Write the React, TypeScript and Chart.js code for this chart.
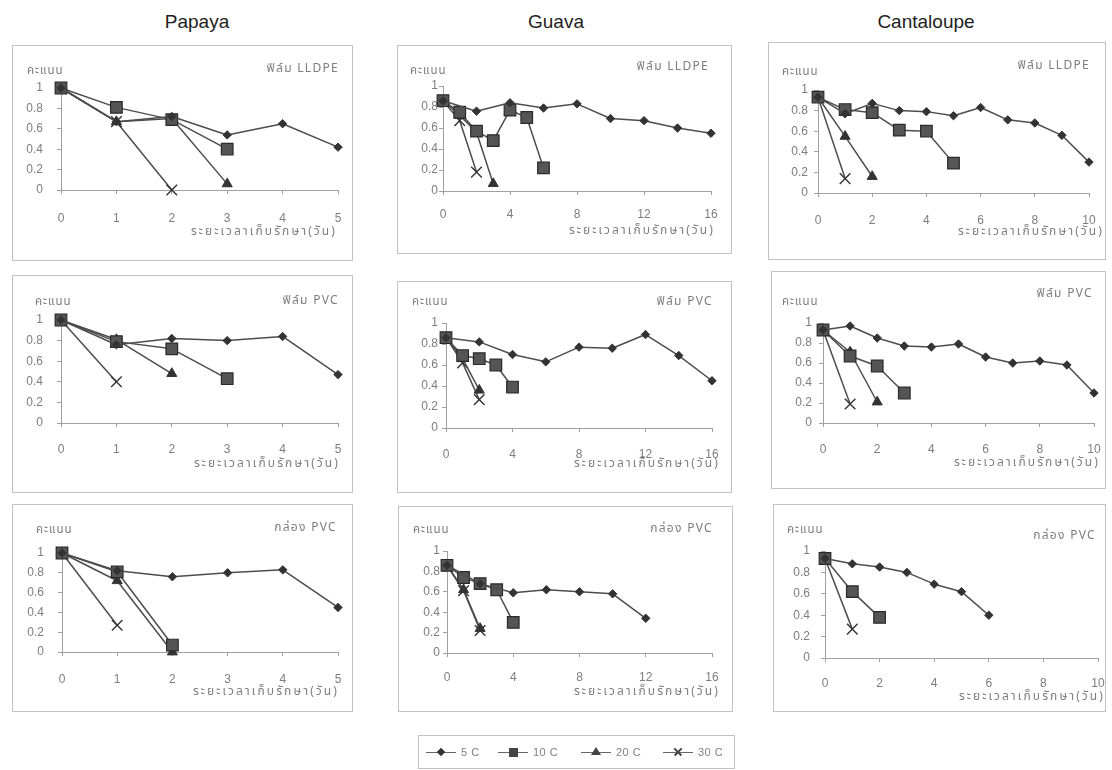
import React, { useEffect, useRef } from "react";
import { Chart, registerables } from "chart.js";
Chart.register(...registerables);

// ---------- text ----------
const fruitNames = ["Papaya", "Guava", "Cantaloupe"];
const packageNames = ["ฟิล์ม LLDPE", "ฟิล์ม PVC", "กล่อง PVC"];
const temperatureLabels = ["5 C", "10 C", "20 C", "30 C"];
const yAxisTitle = "คะแนน";
const xAxisTitle = "ระยะเวลาเก็บรักษา(วัน)";

// ---------- ticks ----------
const yTicks = [0, 0.2, 0.4, 0.6, 0.8, 1];
const papayaXTicks = [0, 1, 2, 3, 4, 5];
const guavaXTicks = [0, 4, 8, 12, 16];
const cantaloupeXTicks = [0, 2, 4, 6, 8, 10];

// ---------- days ----------
const dailyDays = [0, 1, 2, 3, 4, 5, 6, 7, 8, 9, 10];
const guavaLldpe5Days = [0, 2, 4, 6, 8, 10, 12, 14, 16];
const guavaPvc5Days = [0, 2, 4, 6, 8, 10, 12, 14, 16];
const guavaBox5Days = [0, 2, 4, 6, 8, 10, 12];

// ---------- scores: Papaya ----------
const papayaLldpe5 = [1, 0.67, 0.72, 0.54, 0.65, 0.42];
const papayaLldpe10 = [1, 0.81, 0.69, 0.4];
const papayaLldpe20 = [1, 0.67, 0.7, 0.06];
const papayaLldpe30 = [1, 0.67, 0];
const papayaPvc5 = [1, 0.76, 0.82, 0.8, 0.84, 0.47];
const papayaPvc10 = [1, 0.79, 0.72, 0.43];
const papayaPvc20 = [1, 0.81, 0.48];
const papayaPvc30 = [1, 0.4];
const papayaBox5 = [1, 0.82, 0.76, 0.8, 0.83, 0.45];
const papayaBox10 = [1, 0.81, 0.07];
const papayaBox20 = [1, 0.72, 0];
const papayaBox30 = [1, 0.27];

// ---------- scores: Guava ----------
const guavaLldpe5 = [0.86, 0.76, 0.84, 0.79, 0.83, 0.69, 0.67, 0.6, 0.55];
const guavaLldpe10 = [0.86, 0.75, 0.57, 0.48, 0.77, 0.7, 0.22];
const guavaLldpe20 = [0.86, 0.72, 0.56, 0.07];
const guavaLldpe30 = [0.86, 0.67, 0.18];
const guavaPvc5 = [0.86, 0.82, 0.7, 0.63, 0.77, 0.76, 0.89, 0.69, 0.45];
const guavaPvc10 = [0.86, 0.69, 0.66, 0.6, 0.39];
const guavaPvc20 = [0.86, 0.66, 0.36];
const guavaPvc30 = [0.86, 0.62, 0.27];
const guavaBox5 = [0.86, 0.68, 0.59, 0.62, 0.6, 0.58, 0.34];
const guavaBox10 = [0.86, 0.74, 0.68, 0.62, 0.3];
const guavaBox20 = [0.86, 0.62, 0.24];
const guavaBox30 = [0.86, 0.61, 0.22];

// ---------- scores: Cantaloupe ----------
const cantaloupeLldpe5 = [0.93, 0.77, 0.87, 0.8, 0.79, 0.75, 0.83, 0.71, 0.68, 0.56, 0.3];
const cantaloupeLldpe10 = [0.93, 0.81, 0.78, 0.61, 0.6, 0.29];
const cantaloupeLldpe20 = [0.93, 0.55, 0.16];
const cantaloupeLldpe30 = [0.93, 0.14];
const cantaloupePvc5 = [0.93, 0.97, 0.85, 0.77, 0.76, 0.79, 0.66, 0.6, 0.62, 0.58, 0.3];
const cantaloupePvc10 = [0.93, 0.67, 0.57, 0.3];
const cantaloupePvc20 = [0.93, 0.71, 0.21];
const cantaloupePvc30 = [0.93, 0.19];
const cantaloupeBox5 = [0.93, 0.88, 0.85, 0.8, 0.69, 0.62, 0.4];
const cantaloupeBox10 = [0.93, 0.62, 0.38];
const cantaloupeBox20: number[] = [];
const cantaloupeBox30 = [0.93, 0.27];

type Series = [number[], number[]];
type Panel = { fruit: number; pkg: number; xTicks: number[]; series: Series[] };

const panels: Panel[] = [
  { fruit: 0, pkg: 0, xTicks: papayaXTicks, series: [[dailyDays, papayaLldpe5], [dailyDays, papayaLldpe10], [dailyDays, papayaLldpe20], [dailyDays, papayaLldpe30]] },
  { fruit: 0, pkg: 1, xTicks: papayaXTicks, series: [[dailyDays, papayaPvc5], [dailyDays, papayaPvc10], [dailyDays, papayaPvc20], [dailyDays, papayaPvc30]] },
  { fruit: 0, pkg: 2, xTicks: papayaXTicks, series: [[dailyDays, papayaBox5], [dailyDays, papayaBox10], [dailyDays, papayaBox20], [dailyDays, papayaBox30]] },
  { fruit: 1, pkg: 0, xTicks: guavaXTicks, series: [[guavaLldpe5Days, guavaLldpe5], [dailyDays, guavaLldpe10], [dailyDays, guavaLldpe20], [dailyDays, guavaLldpe30]] },
  { fruit: 1, pkg: 1, xTicks: guavaXTicks, series: [[guavaPvc5Days, guavaPvc5], [dailyDays, guavaPvc10], [dailyDays, guavaPvc20], [dailyDays, guavaPvc30]] },
  { fruit: 1, pkg: 2, xTicks: guavaXTicks, series: [[guavaBox5Days, guavaBox5], [dailyDays, guavaBox10], [dailyDays, guavaBox20], [dailyDays, guavaBox30]] },
  { fruit: 2, pkg: 0, xTicks: cantaloupeXTicks, series: [[dailyDays, cantaloupeLldpe5], [dailyDays, cantaloupeLldpe10], [dailyDays, cantaloupeLldpe20], [dailyDays, cantaloupeLldpe30]] },
  { fruit: 2, pkg: 1, xTicks: cantaloupeXTicks, series: [[dailyDays, cantaloupePvc5], [dailyDays, cantaloupePvc10], [dailyDays, cantaloupePvc20], [dailyDays, cantaloupePvc30]] },
  { fruit: 2, pkg: 2, xTicks: cantaloupeXTicks, series: [[dailyDays, cantaloupeBox5], [dailyDays, cantaloupeBox10], [dailyDays, cantaloupeBox20], [dailyDays, cantaloupeBox30]] },
];

// ---------- layout (page px) ----------
type Geom = {
  box: number[]; area: number[]; yGap: number; xLab: number; xTit: number; xTitDx: number;
  yt: number[]; pk: number[];
};
const geoms: Geom[] = [
  { box: [12, 45, 353, 261], area: [61, 88, 338, 190], yGap: 18, xLab: 28, xTit: 43, xTitDx: -3, yt: [-34, -16], pk: [0, -18] },
  { box: [12, 275, 353, 493], area: [61, 320, 338, 423], yGap: 18, xLab: 26, xTit: 42, xTitDx: 0, yt: [-26, -17], pk: [0, -18] },
  { box: [12, 504, 353, 712], area: [62, 553, 338, 652], yGap: 18, xLab: 27, xTit: 41, xTitDx: -1, yt: [-26, -22], pk: [-2, -24] },
  { box: [397, 45, 732, 254], area: [443, 86, 711, 191], yGap: 5, xLab: 23, xTit: 41, xTitDx: 2, yt: [-33, -14], pk: [-3, -18] },
  { box: [397, 281, 732, 493], area: [446, 323, 712, 428], yGap: 8, xLab: 26, xTit: 37, xTitDx: 6, yt: [-34, -20], pk: [0, -20] },
  { box: [398, 506, 733, 712], area: [447, 551, 712, 653], yGap: 7, xLab: 24, xTit: 40, xTitDx: 6, yt: [-34, -20], pk: [0, -21] },
  { box: [768, 42, 1106, 260], area: [818, 90, 1089, 193], yGap: 10, xLab: 27, xTit: 40, xTitDx: 13, yt: [-36, -17], pk: [0, -23] },
  { box: [771, 271, 1106, 489], area: [823, 323, 1094, 423], yGap: 11, xLab: 26, xTit: 41, xTitDx: 4, yt: [-41, -20], pk: [-2, -28] },
  { box: [773, 504, 1106, 712], area: [825, 551, 1098, 658], yGap: 15, xLab: 25, xTit: 40, xTitDx: 5, yt: [-38, -20], pk: [-3, -14] },
];

const M = 10; // canvas margin around box
const TICK_LEN = 4;
const TICK_FONT = 12;
const NUM_FAMILY = "'Liberation Sans', Arial, sans-serif";
const THAI_FAMILY = "'Noto Sans Thai', Tahoma, 'Loma', 'Garuda', 'DejaVu Sans', sans-serif";
const LINE_COLOR = "#4d4d4d";
const AXIS_COLOR = "#a0a0a0";
const TEXT_COLOR = "#7d7d7d";

const markerStyles = [
  { pointStyle: "rectRot", radius: 4.2, bg: "#333333", border: "#333333", bw: 1 },
  { pointStyle: "rect", radius: 8.2, bg: "#555555", border: "#2a2a2a", bw: 1.2 },
  { pointStyle: "triangle", radius: 5.8, bg: "#333333", border: "#333333", bw: 1 },
  { pointStyle: "crossRot", radius: 7.5, bg: "#333333", border: "#333333", bw: 1.4 },
];

function PanelChart({ panel, geom }: { panel: Panel; geom: Geom }) {
  const ref = useRef<HTMLCanvasElement | null>(null);
  const [bl, bt, br, bb] = geom.box;
  const [al, at, ar, ab] = geom.area;
  const cw = br - bl + 2 * M;
  const ch = bb - bt + 2 * M;
  const ox = bl - M;
  const oy = bt - M;

  useEffect(() => {
    if (!ref.current) return;
    const xTicks = panel.xTicks;
    const datasets = panel.series.map(([days, vals], i) => {
      const st = markerStyles[i];
      return {
        label: temperatureLabels[i],
        data: vals.map((v, k) => ({ x: days[k], y: v })),
        borderColor: LINE_COLOR,
        borderWidth: 1.5,
        backgroundColor: st.bg,
        pointStyle: st.pointStyle as any,
        pointRadius: st.radius,
        pointBackgroundColor: st.bg,
        pointBorderColor: st.border,
        pointBorderWidth: st.bw,
        tension: 0,
        clip: false as any,
        fill: false,
      };
    });

    const areaLeft = al - ox;
    const areaTop = at - oy;
    const areaRight = ar - ox;
    const areaBottom = ab - oy;

    const textPlugin = {
      id: "panelText",
      beforeDraw(chart: any) {
        const ctx = chart.ctx;
        ctx.save();
        ctx.fillStyle = "#ffffff";
        ctx.fillRect(0, 0, cw, ch);
        ctx.strokeStyle = "#c2c2c2";
        ctx.lineWidth = 1;
        ctx.strokeRect(M + 0.5, M + 0.5, br - bl - 1, bb - bt - 1);
        ctx.restore();
      },
      afterDraw(chart: any) {
        const ctx = chart.ctx;
        const a = chart.chartArea;
        ctx.save();
        ctx.fillStyle = TEXT_COLOR;
        ctx.textBaseline = "middle";
        ctx.font = `11.5px ${THAI_FAMILY}`;
        ctx.letterSpacing = "1px";
        ctx.textAlign = "left";
        ctx.fillText(yAxisTitle, a.left + geom.yt[0], a.top + geom.yt[1]);
        ctx.font = `12px ${THAI_FAMILY}`;
        ctx.letterSpacing = "1.3px";
        ctx.textAlign = "right";
        ctx.fillText(packageNames[panel.pkg], a.right + geom.pk[0] + 1, a.top + geom.pk[1]);
        ctx.letterSpacing = "2.1px";
        ctx.fillText(xAxisTitle, a.right + geom.xTitDx + 2, a.bottom + geom.xTit);
        ctx.restore();
      },
    };

    const chart = new Chart(ref.current, {
      type: "line",
      data: { datasets },
      options: {
        animation: false,
        responsive: false,
        devicePixelRatio: 1,
        layout: { padding: { left: 0, top: areaTop, right: cw - areaRight, bottom: 0 } },
        plugins: { legend: { display: false }, tooltip: { enabled: false }, title: { display: false } },
        elements: { line: { borderJoinStyle: "round" } },
        scales: {
          x: {
            type: "linear",
            min: xTicks[0],
            max: xTicks[xTicks.length - 1],
            afterBuildTicks: (s: any) => { s.ticks = xTicks.map((v) => ({ value: v })); },
            afterFit: (s: any) => { s.height = ch - areaBottom; s.paddingLeft = 0; s.paddingRight = 0; },
            ticks: {
              color: TEXT_COLOR,
              font: { family: NUM_FAMILY, size: TICK_FONT },
              padding: geom.xLab - TICK_LEN - TICK_FONT * 0.6 + 1,
              maxRotation: 0,
              autoSkip: false,
            },
            grid: { drawOnChartArea: false, drawTicks: true, tickLength: TICK_LEN, color: AXIS_COLOR },
            border: { display: true, color: AXIS_COLOR, width: 1 },
          },
          y: {
            type: "linear",
            min: 0,
            max: 1,
            afterBuildTicks: (s: any) => { s.ticks = yTicks.map((v) => ({ value: v })); },
            afterFit: (s: any) => { s.width = areaLeft; s.paddingTop = 0; s.paddingBottom = 0; },
            ticks: {
              color: TEXT_COLOR,
              font: { family: NUM_FAMILY, size: TICK_FONT },
              padding: Math.max(0, geom.yGap - TICK_LEN),
              callback: (v: any) => String(Number(Number(v).toFixed(1))),
            },
            grid: { drawOnChartArea: false, drawTicks: true, tickLength: TICK_LEN, color: AXIS_COLOR },
            border: { display: true, color: AXIS_COLOR, width: 1 },
          },
        },
      },
      plugins: [textPlugin],
    });
    return () => chart.destroy();
  }, []);

  return (
    <canvas
      ref={ref}
      width={cw}
      height={ch}
      style={{ position: "absolute", left: ox, top: oy, width: cw, height: ch }}
    />
  );
}

const headerCenters = [197, 556, 926];

function LegendMarker({ kind }: { kind: number }) {
  const common: React.CSSProperties = { position: "absolute", left: "50%", top: "50%" };
  let marker: React.ReactNode = null;
  if (kind === 0) {
    marker = <div style={{ ...common, width: 6, height: 6, marginLeft: -3, marginTop: -3, background: "#333", transform: "rotate(45deg)" }} />;
  } else if (kind === 1) {
    marker = <div style={{ ...common, width: 9, height: 9, marginLeft: -4.5, marginTop: -4.5, background: "#444" }} />;
  } else if (kind === 2) {
    marker = <div style={{ ...common, width: 0, height: 0, marginLeft: -5, marginTop: -5, borderLeft: "5px solid transparent", borderRight: "5px solid transparent", borderBottom: "8px solid #444" }} />;
  } else {
    marker = (
      <>
        <div style={{ ...common, width: 10, height: 1.5, marginLeft: -5, marginTop: -0.75, background: "#444", transform: "rotate(45deg)" }} />
        <div style={{ ...common, width: 10, height: 1.5, marginLeft: -5, marginTop: -0.75, background: "#444", transform: "rotate(-45deg)" }} />
      </>
    );
  }
  return (
    <div style={{ position: "relative", width: 30, height: 14, display: "inline-block" }}>
      <div style={{ position: "absolute", left: 0, right: 0, top: 7, height: 1, background: "#666" }} />
      {marker}
    </div>
  );
}

const legendLefts = [7, 79, 162, 244];

export default function App() {
  return (
    <div style={{ position: "absolute", left: 0, top: 0, width: 1112, height: 770, overflow: "hidden", background: "#fff" }}>
      {fruitNames.map((name, i) => (
        <div
          key={name}
          style={{
            position: "absolute",
            left: headerCenters[i] - 100,
            width: 200,
            top: 10,
            textAlign: "center",
            fontFamily: NUM_FAMILY,
            fontSize: 19,
            lineHeight: "24px",
            color: "#1e1e1e",
          }}
        >
          {name}
        </div>
      ))}
      {panels.map((p, i) => (
        <PanelChart key={i} panel={p} geom={geoms[i]} />
      ))}
      <div style={{ position: "absolute", left: 418, top: 735, width: 317, height: 34, border: "1px solid #c2c2c2", boxSizing: "border-box" }}>
        {temperatureLabels.map((lab, i) => (
          <div key={lab} style={{ position: "absolute", left: legendLefts[i], top: 9, display: "flex", alignItems: "center", whiteSpace: "nowrap" }}>
            <LegendMarker kind={i} />
            <span style={{ fontFamily: NUM_FAMILY, fontSize: 11, color: "#808080", marginLeft: 5, letterSpacing: 0.5 }}>{lab}</span>
          </div>
        ))}
      </div>
    </div>
  );
}
